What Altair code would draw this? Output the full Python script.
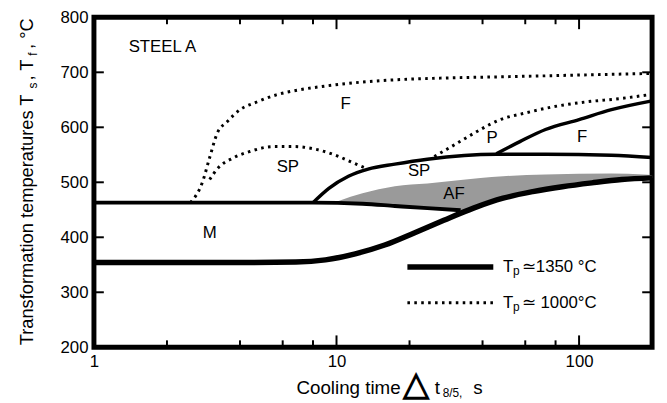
import altair as alt
import pandas as pd

# ---------------- data ----------------
# Tp = 1350 C (solid lines)
low_x = [1, 4, 6.8, 9.0, 11.95, 15.8, 20.9, 27.7, 36.7, 48.6, 64.4, 85.3, 113, 150, 200]
low_y = [354, 354, 355, 359, 370, 386, 408, 431, 453, 471, 483, 492, 499, 505, 508]

ms_x = [1, 8, 12.8, 17.4, 23.7, 32.5]
ms_y = [463, 463, 461, 457, 453, 449]

sp_x = [8, 9.3, 11.2, 13.5, 17.4, 23.7, 45.6, 72.7, 136, 200]
sp_y = [463, 489, 511, 524, 533, 542, 551, 551, 549, 545]

pf_x = [45.6, 57, 72.7, 100, 136, 200]
pf_y = [552, 574, 596, 614, 632, 648]

# acicular ferrite (shaded) region
af_x = [9.8, 10.2, 12.8, 17.4, 23.7, 32.5, 39.2, 48.6, 72.7, 136, 185, 200]
af_top = [463, 466, 480, 493, 498, 504, 508, 511, 514, 516, 514, 513]
af_bot = [463, 463, 461, 457, 453, 449, 460, 471, 486, 503, 507, 508]

# Tp = 1000 C (dotted lines)
fd_x = [2.5, 2.8, 3.0, 3.22, 3.54, 4.0, 4.69, 5.65, 7.0, 9.0, 11.9, 16.9, 25, 50, 100, 200]
fd_y = [463, 500, 545, 589, 610, 632, 646, 659, 668, 675, 681, 686, 689, 692, 695, 698]

spd_x = [3.0, 3.22, 3.78, 4.39, 5.5, 6.62, 8.22, 10.2, 11.9, 13.5]
spd_y = [505, 524, 545, 556, 565, 565, 560, 547, 534, 524]

pd_x = [25.3, 28.5, 33.4, 39.2, 47.3, 58.7, 77.6, 106, 146, 200]
pd_y = [547, 560, 578, 596, 614, 625, 637, 646, 652, 660]

# legend sample lines
leg_x = [19.6, 44.3]
leg_solid_y = [346, 346]
leg_dot_y = [281, 281]

# region labels
lab_text = ["F", "SP", "SP", "AF", "P", "F", "M"]
lab_x = [10.9, 6.3, 21.9, 30.5, 43.8, 103, 3.0]
lab_y = [642, 527, 520, 478, 580, 583, 408]

x_major = [10, 100]
x_minor = [2, 4, 6, 8, 20, 40, 60, 80]
x_labels = [1, 10, 100]
y_ticks = [300, 400, 500, 600, 700]
y_labels = [200, 300, 400, 500, 600, 700, 800]

# ---------------- chart ----------------
W, H = 565, 334
FONT = "Liberation Sans"
xs = alt.Scale(type="log", domain=[1, 200], nice=False)
ys = alt.Scale(domain=[200, 800], nice=False, zero=False)
xaxis = alt.Axis(values=x_labels, format="d", ticks=False, domain=False, grid=False,
                 labelFontSize=17, labelFont=FONT, labelColor="black", labelPadding=6,
                 title=None, labelFlush=False)
yaxis = alt.Axis(values=y_labels, ticks=False, domain=False, grid=False, labelFontSize=17,
                 labelFont=FONT, labelColor="black", labelPadding=6, title=None)


def X(f):
    return alt.X(f, scale=xs, axis=xaxis)


def Y(f):
    return alt.Y(f, scale=ys, axis=yaxis)


def line(xv, yv, width, dash=None):
    df = pd.DataFrame({"x": xv, "y": yv})
    kw = dict(color="black", strokeWidth=width, interpolate="monotone", clip=True)
    if dash:
        kw["strokeDash"] = dash
        kw["strokeCap"] = "butt"
    return alt.Chart(df).mark_line(**kw).encode(x=X("x:Q"), y=Y("y:Q"))


DOT = [2.6, 4.4]

area = alt.Chart(pd.DataFrame({"x": af_x, "t": af_top, "b": af_bot})).mark_area(
    color="#9a9a9a", interpolate="monotone"
).encode(x=X("x:Q"), y=Y("t:Q"), y2="b:Q")

lines = [
    line(low_x, low_y, 5.5),
    line(ms_x, ms_y, 4),
    line(sp_x, sp_y, 3.5),
    line(pf_x, pf_y, 3.5),
    line(fd_x, fd_y, 3, DOT),
    line(spd_x, spd_y, 3, DOT),
    line(pd_x, pd_y, 3, DOT),
    line(leg_x, leg_solid_y, 5.5),
    line(leg_x, leg_dot_y, 3, DOT),
]


def ticks_x(vals, length):
    df = pd.DataFrame({"v": vals})
    b = alt.Chart(df).mark_rule(color="black", strokeWidth=2)
    bottom = b.encode(x=X("v:Q"), y=alt.value(H), y2=alt.value(H - length))
    top = b.encode(x=X("v:Q"), y=alt.value(0), y2=alt.value(length))
    return bottom + top


def ticks_y(vals, length):
    df = pd.DataFrame({"v": vals})
    b = alt.Chart(df).mark_rule(color="black", strokeWidth=2)
    left = b.encode(y=Y("v:Q"), x=alt.value(0), x2=alt.value(length))
    right = b.encode(y=Y("v:Q"), x=alt.value(W), x2=alt.value(W - length))
    return left + right


labels = alt.Chart(pd.DataFrame({"t": lab_text, "x": lab_x, "y": lab_y})).mark_text(
    fontSize=17, font=FONT, color="black"
).encode(x=X("x:Q"), y=Y("y:Q"), text="t:N")

steel = alt.Chart(pd.DataFrame({"t": ["STEEL A"], "x": [1.39], "y": [746]})).mark_text(
    fontSize=17, font=FONT, align="left", color="black"
).encode(x=X("x:Q"), y=Y("y:Q"), text="t:N")


def legend_text(yv, rest):
    df = pd.DataFrame({"x": [48.6], "y": [yv]})
    b = alt.Chart(df)
    enc = dict(x=X("x:Q"), y=Y("y:Q"))
    t1 = b.mark_text(text="T", fontSize=17, font=FONT, align="left", baseline="middle").encode(**enc)
    t2 = b.mark_text(text="p", fontSize=12, font=FONT, align="left", baseline="middle", dx=10, dy=4).encode(**enc)
    t3 = b.mark_text(text=rest, fontSize=17, font=FONT, align="left", baseline="middle", dx=19).encode(**enc)
    return t1 + t2 + t3


def free_text(txt, x, y, size, angle=0, align="left", weight="normal"):
    kw = dict(text=txt, fontSize=size, font=FONT, align=align, baseline="alphabetic",
              color="black", fontWeight=weight)
    if angle:
        kw["angle"] = angle
    return alt.Chart(pd.DataFrame({"a": [0]})).mark_text(**kw).encode(x=alt.value(x), y=alt.value(y))


titles = [
    free_text("Transformation temperatures  T", -62, 332, 18.5, 270),
    free_text("s", -58, 72, 12, 270),
    free_text(", T", -62, 64, 18.5, 270),
    free_text("f", -58, 39, 12, 270),
    free_text(", °C", -62, 32, 18.5, 270),
    free_text("Cooling time", 205, 381, 19),
    free_text("△", 313, 382, 34, weight="bold"),
    free_text("t", 345, 381, 19),
    free_text("8/5,", 353, 384, 12),
    free_text("s", 384, 381, 19),
]

chart = alt.layer(
    area, *lines,
    ticks_x(x_minor, 7), ticks_x(x_major, 12), ticks_y(y_ticks, 10),
    labels, steel,
    legend_text(346, "≃1350 °C"), legend_text(281, "≃ 1000°C"),
    *titles,
).properties(
    width=W, height=H,
    autosize=alt.AutoSizeParams(type="none"),
    padding={"left": 87, "top": 7, "right": 7, "bottom": 55},
).configure_view(stroke="black", strokeWidth=5)

chart.save("out.html", embed_options={"renderer": "svg", "actions": False})
